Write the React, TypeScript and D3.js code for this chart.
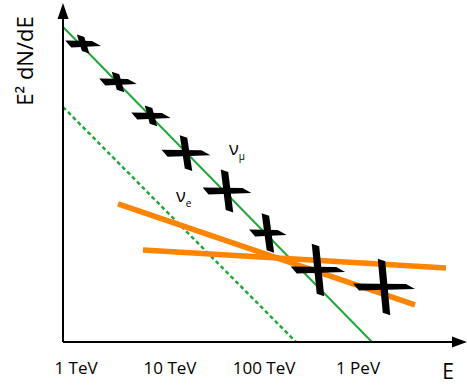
import React from "react";
import * as d3 from "d3";

// Energy in TeV, flux in arbitrary units (E^2 dN/dE)
const tickEnergies = [1, 10, 100, 1000];
const tickLabels = ["1 TeV", "10 TeV", "100 TeV", "1 PeV"];

const greenSolid: [number, number][] = [[0.728, 2244], [1409, 1]];
const greenDashed: [number, number][] = [[0.728, 316], [219, 1]];
const orangeSteep: [number, number][] = [[2.8, 29.4], [4036, 2.48]];
const orangeFlat: [number, number][] = [[5.16, 9.53], [8630, 6.12]];

const pointEnergy = [1.19, 2.8, 6.28, 14.8, 40.4, 110, 375, 1890];
const pointFlux = [1479, 583, 254, 102, 40.4, 14.4, 5.83, 3.85];
const energyErrDex = [0.19, 0.2, 0.21, 0.26, 0.26, 0.2, 0.29, 0.33];
const fluxErrDex = [0.1, 0.11, 0.11, 0.19, 0.23, 0.21, 0.28, 0.3];

const W = 467;
const H = 386;
const axisX = 63;
const axisY = 342;

export default function App() {
  const x = d3.scaleLog().domain([1, 1000]).range([76, 358]);
  const y = d3.scaleLog().domain([1, 1000]).range([342, 60]);
  const line = d3
    .line<[number, number]>()
    .x((d) => x(d[0]))
    .y((d) => y(d[1]));

  const font = "'Open Sans', 'Noto Sans', sans-serif";

  const crosses = pointEnergy.map((e, i) => {
    const cx = x(e);
    const cy = y(pointFlux[i]);
    const xl = x(e / Math.pow(10, energyErrDex[i]));
    const xr = x(e * Math.pow(10, energyErrDex[i]));
    const yt = y(pointFlux[i] * Math.pow(10, fluxErrDex[i]));
    const yb = y(pointFlux[i] / Math.pow(10, fluxErrDex[i]));
    const tv = 7.5;
    const hBar = [
      [xl, cy - 3.5],
      [xr - 9, cy - 3],
      [xr, cy + 2],
      [xl + 6, cy + 3.5],
    ];
    const vBar = [
      [cx - tv / 2 - 2.5, yt],
      [cx + tv / 2 - 2.5, yt + 2.5],
      [cx + tv / 2 + 2.5, yb],
      [cx - tv / 2 + 2.5, yb - 2.5],
    ];
    return { hBar, vBar, key: i };
  });

  const pts = (p: number[][]) => p.map((q) => q.join(",")).join(" ");

  return (
    <svg
      width={W}
      height={H}
      style={{ position: "absolute", left: 0, top: 0, background: "#fff" }}
    >
      {/* lines */}
      <path d={line(greenDashed) || ""} stroke="#1fa83a" strokeWidth={2.5} strokeDasharray="4,3" fill="none" />
      <path d={line(greenSolid) || ""} stroke="#1fa83a" strokeWidth={2} fill="none" />
      <path d={line(orangeSteep) || ""} stroke="#ff8400" strokeWidth={5.5} fill="none" />
      <path d={line(orangeFlat) || ""} stroke="#ff8400" strokeWidth={5.5} fill="none" />

      {/* data crosses */}
      {crosses.map((c) => (
        <g key={c.key} fill="#000">
          <polygon points={pts(c.hBar)} />
          <polygon points={pts(c.vBar)} />
        </g>
      ))}

      {/* axes */}
      <line x1={axisX} y1={axisY} x2={axisX} y2={16} stroke="#000" strokeWidth={2} />
      <line x1={axisX} y1={axisY} x2={455} y2={axisY} stroke="#000" strokeWidth={2} />
      <polygon points={`${axisX},3 ${axisX - 5.5},19 ${axisX + 5.5},19`} fill="#000" />
      <polygon points={`467,${axisY} 452,${axisY - 5.5} 452,${axisY + 5.5}`} fill="#000" />

      {/* tick labels */}
      {tickEnergies.map((e, i) => (
        <text key={e} x={x(e)} y={374} textAnchor="middle" fontFamily={font} fontSize={17} fill="#000">
          {tickLabels[i]}
        </text>
      ))}

      {/* axis titles */}
      <text x={448} y={379} textAnchor="middle" fontFamily={font} fontSize={21} fill="#000">
        E
      </text>
      <text
        transform="translate(33,61) rotate(-90)"
        textAnchor="middle"
        fontFamily={font}
        fontSize={22}
        fill="#000"
      >
        E² dN/dE
      </text>

      {/* neutrino labels */}
      <text x={229} y={155} fontFamily={font} fontSize={18} fill="#000">
        ν<tspan fontSize={10} dy={5}>μ</tspan>
      </text>
      <text x={176} y={202} fontFamily={font} fontSize={18} fill="#000">
        ν<tspan fontSize={10} dy={5}>e</tspan>
      </text>
    </svg>
  );
}
